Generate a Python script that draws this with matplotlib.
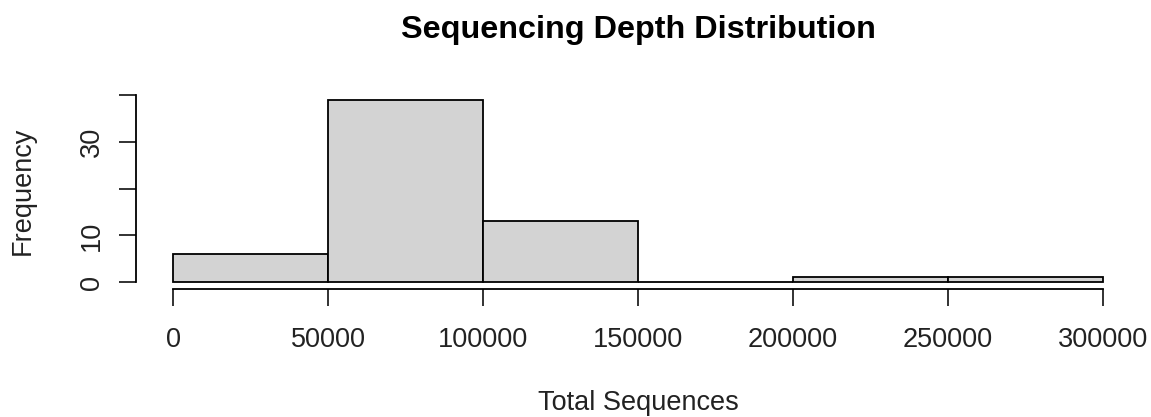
import numpy as np
import matplotlib
matplotlib.use("Agg")
import matplotlib.pyplot as plt

# histogram of total sequences per sample
bin_edges = [0, 50000, 100000, 150000, 200000, 250000, 300000]
counts = [6, 39, 13, 0, 1, 1]
x_ticks = [0, 50000, 100000, 150000, 200000, 250000, 300000]
y_ticks = [0, 10, 20, 30, 40]
y_labels = ["0", "10", "", "30", ""]

plt.rcParams['font.family'] = ['Liberation Sans', 'DejaVu Sans']

fig = plt.figure(figsize=(11.51, 4.17), dpi=100)
ax = fig.add_axes([0.118, 0.306, 0.8725, 0.472])

widths = np.diff(bin_edges)
ax.bar(bin_edges[:-1], counts, width=widths, align='edge',
       color='#d3d3d3', edgecolor='black', linewidth=1.3)

# R-style padded limits
xr = bin_edges[-1] - bin_edges[0]
ax.set_xlim(bin_edges[0] - 0.04 * xr, bin_edges[-1] + 0.04 * xr)
yr = max(counts)
ax.set_ylim(-0.04 * yr, yr * 1.04)

for side in ['top', 'right']:
    ax.spines[side].set_visible(False)
ax.spines['left'].set_bounds(0, 40)
ax.spines['bottom'].set_bounds(0, 300000)
for side in ['left', 'bottom']:
    ax.spines[side].set_linewidth(1.3)

ax.set_xticks(x_ticks)
ax.set_xticklabels([str(v) for v in x_ticks])
ax.set_yticks(y_ticks)
ax.set_yticklabels(y_labels, rotation=90, va='center')
ax.tick_params(axis='both', direction='out', length=12, width=1.3,
               labelsize=19.5, colors='#222222')
ax.tick_params(axis='x', pad=15)
ax.tick_params(axis='y', pad=10)

ax.set_xlabel("Total Sequences", fontsize=19.5, labelpad=27, color='#222222')
ax.set_ylabel("Frequency", fontsize=19.5, labelpad=31, color='#222222')
ax.set_title("Sequencing Depth Distribution", fontsize=23.3,
             fontweight='bold', pad=39)

fig.savefig("out.png", dpi=100)
